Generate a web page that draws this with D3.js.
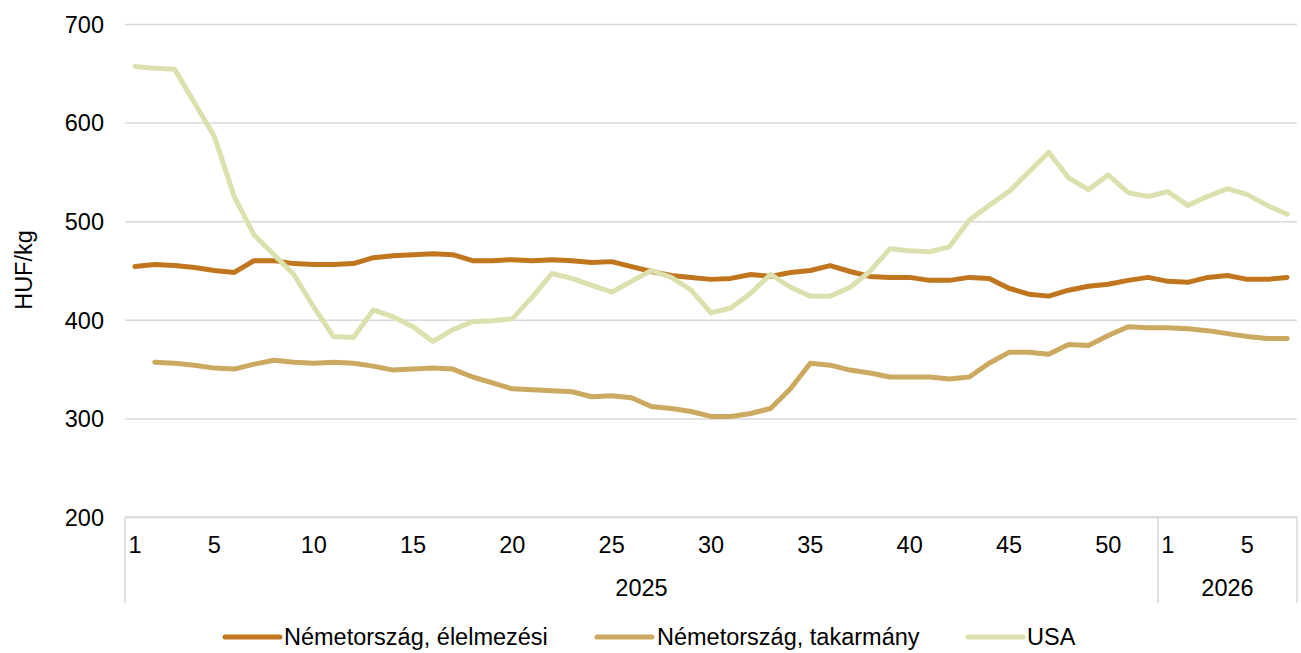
<!DOCTYPE html>
<html>
<head>
<meta charset="utf-8">
<script src="https://cdn.jsdelivr.net/npm/d3@7"></script>
<style>
  html, body { margin: 0; padding: 0; background: #fff; }
  svg { display: block; }
  text { font-family: "Liberation Sans", Arial, sans-serif; fill: #000; }
</style>
</head>
<body>
<svg id="chart" width="1301" height="653"></svg>
<script>
// ---- Data ----
const years = ["2025", "2026"];
const weeks2025 = [1,2,3,4,5,6,7,8,9,10,11,12,13,14,15,16,17,18,19,20,21,22,23,24,25,26,27,28,29,30,31,32,33,34,35,36,37,38,39,40,41,42,43,44,45,46,47,48,49,50,51,52];
const weeks2026 = [1,2,3,4,5,6,7];
const weekTickLabels = [1,5,10,15,20,25,30,35,40,45,50];
const yTicks = [200,300,400,500,600,700];

const seriesNames = ["Németország, élelmezési", "Németország, takarmány", "USA"];

const germanyFood = [454,456,455,453,450,448,460,460,457,456,456,457,463,465,466,467,466,460,460,461,460,461,460,458,459,454,449,445,443,441,442,446,444,448,450,455,449,444,443,443,440,440,443,442,432,426,424,430,434,436,440,443,439,438,443,445,441,441,443];
const germanyFeed = [null,357,356,354,351,350,355,359,357,356,357,356,353,349,350,351,350,342,336,330,329,328,327,322,323,321,312,310,307,302,302,305,310,330,356,354,349,346,342,342,342,340,342,356,367,367,365,375,374,384,393,392,392,391,389,386,383,381,381];
const usa = [657,655,654,620,586,525,486,466,446,413,383,382,410,403,393,378,390,398,399,401,423,447,442,435,428,439,450,443,430,407,412,427,446,433,424,424,433,449,472,470,469,474,501,516,530,550,570,544,532,547,529,525,530,516,525,533,527,516,507];

const colors = ["#C0761E", "#CCA960", "#DCE0AE"];

// ---- Build categories ----
const categories = [];
weeks2025.forEach(w => categories.push({year: years[0], week: w, key: "2025-" + w}));
weeks2026.forEach(w => categories.push({year: years[1], week: w, key: "2026-" + w}));
const allSeries = [germanyFood, germanyFeed, usa];

// ---- Layout ----
const svg = d3.select("#chart");
const pLeft = 125, pRight = 1297, pTop = 24, pBottom = 517;
const fontSize = "23.5px";

const x = d3.scaleBand().domain(categories.map(c => c.key)).range([pLeft, pRight]).paddingInner(0).paddingOuter(0);
const y = d3.scaleLinear().domain([200, 700]).range([pBottom, pTop]);
const cx = k => x(k) + x.bandwidth() / 2;

// Gridlines + y axis labels
const yAxis = d3.axisLeft(y).tickValues(yTicks).tickSize(-(pRight - pLeft)).tickPadding(21).tickFormat(d3.format("d"));
const gy = svg.append("g").attr("transform", `translate(${pLeft},0)`).call(yAxis);
gy.select(".domain").remove();
gy.selectAll(".tick line").attr("stroke", "#D9D9D9").attr("stroke-width", 1.5);
gy.selectAll(".tick text").style("font-size", fontSize).style("font-family", '"Liberation Sans", Arial, sans-serif').attr("fill", "#000").attr("dy", "0.35em");

// Y title
svg.append("text")
  .attr("transform", `translate(32,270) rotate(-90)`)
  .attr("text-anchor", "middle")
  .style("font-size", fontSize)
  .text("HUF/kg");

// X axis: multi-level category
const axisCol = "#D9D9D9";
const axisBottom = 603;
svg.append("line").attr("x1", pLeft).attr("x2", pRight).attr("y1", pBottom).attr("y2", pBottom).attr("stroke", axisCol).attr("stroke-width", 1.5);
const firstKey2025 = "2025-" + weeks2025[0];
const firstKey2026 = "2026-" + weeks2026[0];
const boundaries = [x(firstKey2025), x(firstKey2026), x("2026-" + weeks2026[weeks2026.length - 1]) + x.bandwidth()];
svg.selectAll(".ybound").data(boundaries).enter().append("line")
  .attr("x1", d => d).attr("x2", d => d).attr("y1", pBottom).attr("y2", axisBottom)
  .attr("stroke", axisCol).attr("stroke-width", 1.5);

const weekLabelCats = categories.filter(c => weekTickLabels.includes(c.week));
svg.selectAll(".wk").data(weekLabelCats).enter().append("text")
  .attr("x", d => cx(d.key)).attr("y", 553)
  .attr("text-anchor", "middle").style("font-size", fontSize)
  .text(d => d.week);

const yearGroups = years.map(yr => {
  const ks = categories.filter(c => c.year === yr).map(c => c.key);
  return {year: yr, x0: x(ks[0]), x1: x(ks[ks.length - 1]) + x.bandwidth()};
});
svg.selectAll(".yr").data(yearGroups).enter().append("text")
  .attr("x", d => (d.x0 + d.x1) / 2).attr("y", 596)
  .attr("text-anchor", "middle").style("font-size", fontSize)
  .text(d => d.year);

// Lines
const line = d3.line()
  .defined(d => d.v !== null)
  .x(d => cx(d.key))
  .y(d => y(d.v));

allSeries.forEach((s, i) => {
  const pts = categories.map((c, j) => ({key: c.key, v: s[j]}));
  svg.append("path")
    .datum(pts)
    .attr("d", line)
    .attr("fill", "none")
    .attr("stroke", colors[i])
    .attr("stroke-width", 5)
    .attr("stroke-linejoin", "round")
    .attr("stroke-linecap", "round");
});

// Legend
const legendItems = [
  {lx: 225, tx: 284},
  {lx: 597, tx: 657},
  {lx: 968, tx: 1027}
];
const lg = svg.append("g");
legendItems.forEach((it, i) => {
  lg.append("line").attr("x1", it.lx).attr("x2", it.lx + 55).attr("y1", 637).attr("y2", 637)
    .attr("stroke", colors[i]).attr("stroke-width", 5).attr("stroke-linecap", "round");
  lg.append("text").attr("x", it.tx).attr("y", 645).style("font-size", fontSize).text(seriesNames[i]);
});
</script>
</body>
</html>
